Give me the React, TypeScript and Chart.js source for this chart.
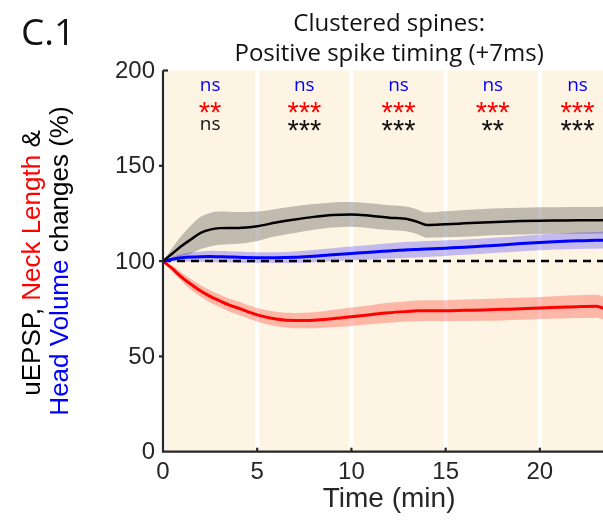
import React, { useEffect, useRef } from 'react';
import { Chart, registerables } from 'chart.js';
Chart.register(...registerables);

// ---- data ----
const time = [0, 0.5, 1, 1.5, 2, 2.5, 3, 3.5, 4, 5, 6, 7, 8, 9, 10, 11, 12, 13, 13.5, 14, 15, 16, 17, 18, 19, 20, 21, 22, 23, 23.5, 24];
const uepspMean = [100, 104, 108, 111.5, 114.8, 116.5, 117.3, 117.4, 117.4, 118.3, 120.2, 121.8, 123.2, 124.2, 124.5, 123.8, 122.8, 122.0, 120.6, 118.9, 119.3, 119.8, 120.3, 120.7, 121.0, 121.2, 121.3, 121.4, 121.4, 121.5, 121.5];
const uepspSem = [0, 3, 5.5, 7.5, 8.5, 8.8, 8.7, 8.5, 8.3, 7.7, 7.2, 7, 6.8, 6.6, 6.5, 6.5, 6.5, 6.5, 6.5, 6.6, 6.8, 7, 7, 7, 7, 7, 7, 7, 7, 7, 7];
const volumeMean = [100, 101, 101.7, 102.1, 102.3, 102.4, 102.3, 102.2, 102.0, 101.8, 101.8, 102.0, 102.6, 103.3, 104.0, 104.7, 105.3, 105.9, 106.1, 106.3, 106.8, 107.3, 107.9, 108.5, 109.2, 109.8, 110.3, 110.7, 110.9, 111, 111];
const volumeSem = [0, 1.2, 2, 2.5, 2.8, 3, 3, 3, 3, 2.8, 2.8, 3, 3.2, 3.4, 3.6, 3.8, 4, 4.2, 4.2, 4.2, 4.1, 4, 4, 4, 4, 4.1, 4.2, 4.3, 4.4, 4.4, 4.4];
const neckMean = [100, 96, 91.5, 87.7, 84.3, 81.5, 79.2, 77, 75.3, 71.8, 69.6, 68.8, 69.0, 69.8, 70.8, 71.9, 72.9, 73.6, 73.9, 74.0, 74.0, 74.2, 74.4, 74.7, 75.0, 75.4, 75.8, 76.1, 76.3, 74.8, 73.5];
const neckSem = [0, 1.5, 2.2, 2.8, 3, 3.2, 3.3, 3.4, 3.5, 3.6, 3.8, 4, 4.2, 4.5, 4.8, 5, 5.2, 5.3, 5.4, 5.4, 5.5, 5.6, 5.7, 5.8, 5.8, 5.8, 5.9, 6, 6, 6, 6];
const baselineX = [0, 24];
const baselineY = [100, 100];

const panelStart = [0, 5, 10, 15, 20];
const panelEnd = [5, 10, 15, 20, 24];
const volumeSig = ['ns', 'ns', 'ns', 'ns', 'ns'];
const neckSig = ['**', '***', '***', '***', '***'];
const epspSig = ['ns', '***', '***', '**', '***'];

const xTicks = [0, 5, 10, 15, 20];
const yTicks = [0, 50, 100, 150, 200];

const pts = (ys: number[]) => time.map((t, i) => ({ x: t, y: ys[i] }));
const plus = (m: number[], s: number[]) => m.map((v, i) => v + s[i]);
const minus = (m: number[], s: number[]) => m.map((v, i) => v - s[i]);

const AX = '#262626';
const MYR = '"Open Sans", "Noto Sans", sans-serif';
const ARIAL = '"Liberation Sans", Arial, sans-serif';

const decor = {
  id: 'decor',
  beforeDatasetsDraw(chart: any) {
    const { ctx, scales } = chart;
    const xs = scales.x, ys = scales.y;
    ctx.save();
    ctx.fillStyle = '#fdf4e4';
    const top = ys.getPixelForValue(200);
    const bot = ys.getPixelForValue(0) - 1;
    panelStart.forEach((s, i) => {
      const l = xs.getPixelForValue(s) + (s === 0 ? 2 : 2);
      const r = xs.getPixelForValue(panelEnd[i]) - 2;
      ctx.fillRect(l, top, r - l, bot - top);
    });
    ctx.restore();
  },
  afterDatasetsDraw(chart: any) {
    const { ctx, scales, chartArea } = chart;
    const xs = scales.x, ys = scales.y;
    ctx.save();
    // axes
    ctx.strokeStyle = AX;
    ctx.lineWidth = 2.2;
    ctx.beginPath();
    ctx.moveTo(chartArea.left, ys.getPixelForValue(200));
    ctx.lineTo(chartArea.left, ys.getPixelForValue(0));
    ctx.lineTo(chartArea.right + 20, ys.getPixelForValue(0));
    ctx.stroke();
    // y ticks
    yTicks.forEach((v) => {
      const y = ys.getPixelForValue(v);
      ctx.beginPath();
      if (v === 200) {
        ctx.moveTo(chartArea.left, y);
        ctx.lineTo(chartArea.left + 5, y);
      } else if (v !== 0) {
        ctx.moveTo(chartArea.left - 4, y);
        ctx.lineTo(chartArea.left, y);
      }
      ctx.stroke();
    });
    xTicks.forEach((v) => {
      if (v === 0) return;
      const x = xs.getPixelForValue(v);
      ctx.beginPath();
      ctx.moveTo(x, ys.getPixelForValue(0));
      ctx.lineTo(x, ys.getPixelForValue(0) - 4);
      ctx.stroke();
    });
    // tick labels
    ctx.fillStyle = AX;
    ctx.font = `24px ${ARIAL}`;
    ctx.textAlign = 'right';
    ctx.textBaseline = 'middle';
    yTicks.forEach((v) => ctx.fillText(String(v), 155, ys.getPixelForValue(v) + 1));
    ctx.textAlign = 'center';
    xTicks.forEach((v) => ctx.fillText(String(v), xs.getPixelForValue(v), 472));
    ctx.font = `28px ${ARIAL}`;
    ctx.fillText('Time (min)', (xs.getPixelForValue(0) + xs.getPixelForValue(24)) / 2, 499);

    // y title
    const drawRot = (cx: number, cy: number, parts: [string, string][]) => {
      ctx.save();
      ctx.translate(cx, cy);
      ctx.rotate(-Math.PI / 2);
      ctx.font = `26px ${ARIAL}`;
      ctx.textAlign = 'left';
      ctx.textBaseline = 'middle';
      const total = parts.reduce((a, p) => a + ctx.measureText(p[0]).width, 0);
      let x = -total / 2;
      parts.forEach(([t, c]) => {
        ctx.fillStyle = c;
        ctx.fillText(t, x, 0);
        x += ctx.measureText(t).width;
      });
      ctx.restore();
    };
    drawRot(33, 263, [['uEPSP, ', '#000'], ['Neck Length', '#ff0000'], [' &', '#000']]);
    drawRot(61, 261, [['Head Volume', '#0000ff'], [' changes (%)', '#000']]);

    // titles
    ctx.fillStyle = '#111';
    ctx.textAlign = 'center';
    ctx.textBaseline = 'alphabetic';
    ctx.font = `24px ${MYR}`;
    const cx = (xs.getPixelForValue(0) + xs.getPixelForValue(24)) / 2;
    ctx.fillText('Clustered spines:', cx, 31);
    ctx.fillText('Positive spike timing (+7ms)', cx, 61);
    ctx.font = `37px ${MYR}`;
    ctx.textAlign = 'left';
    ctx.fillText('C.1', 21, 45);

    // significance
    panelStart.forEach((s, i) => {
      const l = xs.getPixelForValue(s) + 2;
      const r = xs.getPixelForValue(panelEnd[i]) - 2;
      const mx = (l + r) / 2;
      ctx.textAlign = 'center';
      ctx.textBaseline = 'middle';
      ctx.font = `19px ${MYR}`;
      ctx.fillStyle = '#0000ff';
      ctx.fillText(volumeSig[i], mx, 86);
      const drawSig = (txt: string, color: string, cyy: number) => {
        ctx.fillStyle = color;
        if (txt === 'ns') {
          ctx.font = `19px ${MYR}`;
          ctx.textBaseline = 'middle';
          ctx.fillText(txt, mx, cyy);
        } else {
          ctx.font = `29px ${ARIAL}`;
          ctx.textBaseline = 'alphabetic';
          ctx.fillText(txt, mx, cyy + 15);
        }
      };
      drawSig(neckSig[i], '#ff0000', 107);
      drawSig(epspSig[i], '#111', 125);
    });
    ctx.restore();
  },
};

export default function App() {
  const ref = useRef<HTMLCanvasElement>(null);
  useEffect(() => {
    document.documentElement.style.overflow = 'hidden';
    document.body.style.overflow = 'hidden';
    const band = { borderWidth: 0, pointRadius: 0, cubicInterpolationMode: 'monotone' as const };
    const line = { pointRadius: 0, cubicInterpolationMode: 'monotone' as const, fill: false };
    const chart = new Chart(ref.current!, {
      type: 'line',
      data: {
        datasets: [
          { ...line, data: pts(uepspMean), borderColor: '#000000', borderWidth: 2.5, order: 1 },
          { ...line, data: pts(volumeMean), borderColor: '#0000ff', borderWidth: 3, order: 1 },
          { ...line, data: pts(neckMean), borderColor: '#ff0000', borderWidth: 3, order: 1 },
          { ...line, data: baselineX.map((x, i) => ({ x, y: baselineY[i] })), borderColor: '#000000', borderWidth: 2.5, borderDash: [8, 6], order: 2 },
          { ...band, data: pts(plus(uepspMean, uepspSem)), fill: '+1', backgroundColor: 'rgba(120,115,110,0.45)', order: 5 },
          { ...band, data: pts(minus(uepspMean, uepspSem)), fill: false, order: 5 },
          { ...band, data: pts(plus(volumeMean, volumeSem)), fill: '+1', backgroundColor: 'rgba(40,30,255,0.27)', order: 4 },
          { ...band, data: pts(minus(volumeMean, volumeSem)), fill: false, order: 4 },
          { ...band, data: pts(plus(neckMean, neckSem)), fill: '+1', backgroundColor: 'rgba(255,20,0,0.27)', order: 3 },
          { ...band, data: pts(minus(neckMean, neckSem)), fill: false, order: 3 },
        ] as any,
      },
      options: {
        animation: false,
        responsive: false,
        devicePixelRatio: 1,
        layout: { padding: { left: 163, top: 70.5, right: 9.8, bottom: 68.3 } },
        plugins: { legend: { display: false }, tooltip: { enabled: false }, title: { display: false } },
        scales: {
          x: { type: 'linear', min: 0, max: 24, display: false },
          y: { type: 'linear', min: 0, max: 200, display: false },
        },
      },
      plugins: [decor],
    });
    return () => chart.destroy();
  }, []);
  return (
    <div style={{ position: 'fixed', left: 0, top: 0, width: 625, height: 520, background: '#fff' }}>
      <canvas ref={ref} width={625} height={520} style={{ display: 'block', width: 625, height: 520 }} />
    </div>
  );
}
